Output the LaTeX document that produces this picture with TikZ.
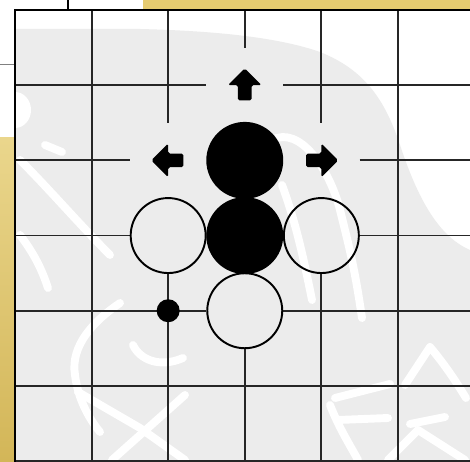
\documentclass[tikz,border=0pt]{standalone}
\usepackage{tikz}
\usetikzlibrary{positioning}

\definecolor{boardgray}{HTML}{ECECEC}
\definecolor{goldlight}{HTML}{F3E3A0}
\definecolor{goldmid}{HTML}{EAD68C}
\definecolor{golddark}{HTML}{D3B658}
\definecolor{goldtop}{HTML}{E5CB70}

\tikzset{
  marker/.pic={\fill[rounded corners=1pt] (-0.2,0.09) -- (0,0.09) -- (0,0.225)
      -- (0.22,0) -- (0,-0.225) -- (0,-0.09) -- (-0.2,-0.09) -- cycle;}
}

\begin{document}
\begin{tikzpicture}[x=0.02cm, y=-0.02cm,
    stone/.style={circle, draw, line width=1.1pt, minimum size=1.5cm, inner sep=0pt},
    blackstone/.style={stone, fill=black},
    whitestone/.style={stone},
    dot/.style={circle, fill=black, inner sep=0pt, minimum size=0.46cm},
    gridline/.style={line width=1.05pt, black!85},
    edge line/.style={line width=1.4pt},
    wmark/.style={white, line width=4.5pt, line cap=round, line join=round}
]
    \useasboundingbox (0,0) rectangle (470,462);

    % page round the board
    \shade[top color=goldmid, middle color=goldlight, bottom color=golddark] (0,138) rectangle (14,462);
    \fill[goldtop] (143,0) rectangle (470,9);
    \draw[line width=1.2pt] (68,0) -- (68,10);
    \draw[gray, line width=0.5pt] (0,64) -- (14,64);

    % board with the faint watermark
    \fill[white] (15,10) rectangle (470,462);
    \fill[boardgray] (15,29) -- (140,29) .. controls (220,31) and (280,38) .. (320,52)
        .. controls (365,70) and (385,100) .. (400,145)
        .. controls (415,190) and (435,235) .. (470,250) -- (470,462) -- (15,462) -- cycle;
    \fill[white] (15,110) ellipse [x radius=16, y radius=18];
    \draw[wmark] (20,160) .. controls (50,190) and (80,225) .. (110,255);
    \draw[wmark] (45,145) -- (62,152);
    \draw[wmark] (20,235) .. controls (35,255) and (42,270) .. (48,288);
    \draw[wmark] (120,303) .. controls (95,320) and (70,345) .. (75,375)
        .. controls (78,400) and (90,420) .. (100,432);
    \draw[wmark] (133,345) .. controls (140,360) and (160,368) .. (183,358);
    \draw[wmark] (78,392) -- (140,428) -- (185,460);
    \draw[wmark] (185,395) -- (112,460);
    \draw[wmark] (272,140) .. controls (300,125) and (330,170) .. (340,210)
        .. controls (350,250) and (355,270) .. (362,318);
    \draw[wmark] (282,185) .. controls (295,220) and (303,255) .. (312,300);
    \draw[wmark] (430,347) -- (405,385);
    \draw[wmark] (430,347) .. controls (445,365) and (455,380) .. (466,398);
    \draw[wmark] (335,398) -- (390,384);
    \draw[wmark] (338,420) -- (388,418);
    \draw[wmark] (410,424) -- (445,417);
    \draw[wmark] (330,405) .. controls (340,430) and (350,445) .. (358,460);
    \draw[wmark] (418,430) -- (388,460);
    \draw[wmark] (418,430) -- (465,460);

    \begin{scope}[shift={(15,10)}, x=1.532cm, y=-1.504cm]
      % grid, broken round the stones and markers
      \foreach \r/\a/\b in {1/0/2.5, 1/3.5/6, 2/0/1.5, 2/4.5/6, 3/0/1.5, 3/4.5/6,
                            4/0/2.5, 4/3.5/6, 5/0/6, 6/0/6}
        \draw[gridline] (\a,\r) -- (\b,\r);
      \foreach \c/\a/\b in {1/0/6, 2/0/1.5, 2/3.5/6, 3/0/0.5, 3/4.5/6,
                            4/0/1.5, 4/3.5/6, 5/0/6}
        \draw[gridline] (\c,\a) -- (\c,\b);
      \draw[edge line] (0,6.1) -- (0,0) -- (6,0);

      % stones
      \node[blackstone] (b1) at (3,2) {};
      \node[blackstone] (b2) at (3,3) {};
      \node[whitestone] (w1) at (2,3) {};
      \node[whitestone] (w2) at (4,3) {};
      \node[whitestone] (w3) at (3,4) {};
      \node[dot]        (spot) at (2,4) {};

      % markers
      \pic[rotate=90]  (up)    at (3,1) {marker};
      \pic[rotate=180] (left)  at (2,2) {marker};
      \pic             (right) at (4,2) {marker};
    \end{scope}
\end{tikzpicture}
\end{document}
